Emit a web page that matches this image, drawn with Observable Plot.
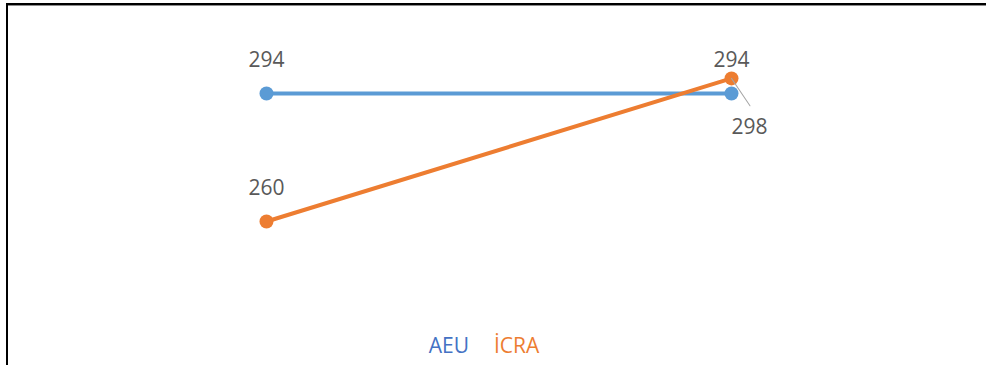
<!DOCTYPE html>
<html>
<head>
<meta charset="utf-8">
<script src="https://cdn.jsdelivr.net/npm/d3@7"></script>
<script src="https://cdn.jsdelivr.net/npm/@observablehq/plot@0.6"></script>
<style>
  html, body { margin: 0; padding: 0; background: #fff; overflow: hidden; }
  #wrap { position: relative; width: 986px; height: 365px; }
  #frame { position: absolute; left: 6px; top: 3px; width: 1000px; height: 380px;
           border-top: 2px solid #000; border-left: 2px solid #000;
           box-shadow: inset 0 1px 0 #8c8c8c; pointer-events: none; }
  #chart svg { display: block; }
  #legend { height: 35px; display: flex; justify-content: center; gap: 25px;
            font-family: "Open Sans", sans-serif; font-size: 21px; line-height: 35px;
            padding-right: 18px; margin-top: -2px; }
</style>
</head>
<body>
<div id="wrap">
  <div id="chart"></div>
  <div id="legend"></div>
  <div id="frame"></div>
</div>
<script>
const categories = ["1", "2"];
const seriesNames = ["AEU", "İCRA"];
const aeuValues = [294, 294];
const icraValues = [260, 298];
const colors = ["#5B9BD5", "#ED7D31"];
const legendColors = ["#4472C4", "#ED7D31"];

const rows = [];
categories.forEach((c, i) => {
  rows.push({cat: c, series: seriesNames[0], value: aeuValues[i], idx: i});
  rows.push({cat: c, series: seriesNames[1], value: icraValues[i], idx: i});
});
const labelRows = rows.filter(d => !(d.series === "İCRA" && d.idx === 1));
const moved = rows.filter(d => d.series === "İCRA" && d.idx === 1);

const leader = {
  draw(context, l) { context.moveTo(0, 0); context.lineTo(0, -l); }
};

const chart = Plot.plot({
  width: 986,
  height: 330,
  margin: 0,
  x: {type: "point", domain: categories, range: [266, 731], padding: 0, axis: null},
  y: {domain: [260, 298], range: [221, 77.9], axis: null},
  color: {domain: seriesNames, range: colors},
  style: {fontFamily: "'Open Sans', sans-serif", background: "transparent"},
  marks: [
    Plot.line(rows, {x: "cat", y: "value", z: "series", stroke: "series", strokeWidth: 4}),
    Plot.dot(rows, {x: "cat", y: "value", fill: "series", r: 7}),
    Plot.vector(moved, {x: "cat", y: "value", length: 33, rotate: 146, shape: leader, stroke: "#a6a6a6", strokeWidth: 1, anchor: "start"}),
    Plot.text(labelRows, {x: "cat", y: "value", text: d => String(d.value), dy: -33, fontSize: 21, fill: "#595959"}),
    Plot.text(moved, {x: "cat", y: "value", text: d => String(d.value), dx: 18, dy: 49, fontSize: 21, fill: "#595959"})
  ]
});
document.getElementById("chart").appendChild(chart);

const legend = document.getElementById("legend");
seriesNames.forEach((s, i) => {
  const span = document.createElement("span");
  span.textContent = s;
  span.style.color = legendColors[i];
  legend.appendChild(span);
});
</script>
</body>
</html>
